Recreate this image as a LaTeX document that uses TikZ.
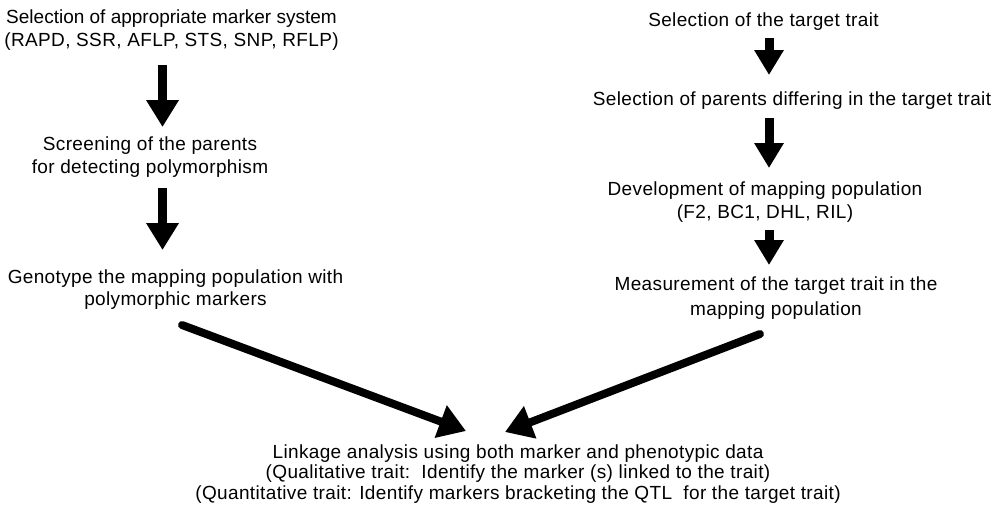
\documentclass[tikz,border=0pt]{standalone}
\usepackage{fontspec}
\setmainfont[LetterSpace=1.9]{Liberation Sans}
\usetikzlibrary{arrows.meta}
\begin{document}
\begin{tikzpicture}[x=1pt,y=-1pt,
  txt/.style={inner sep=0pt,align=center,font=\fontsize{19}{#1}\selectfont},
  txt/.default=24,
  blockarrow/.style={line width=9pt,-{Triangle[width=#1]}},
  diagarrow/.style={line width=8pt,line cap=round,-{Triangle[width=33pt,length=27pt]}}]
\useasboundingbox (0,0) rectangle (1001,517);

% left branch: marker side
\node[txt=23.5] (marker) at (171.5,30.5) {{\addfontfeatures{LetterSpace=0}Selection of appropriate marker system\strut}\\(RAPD, SSR, AFLP, STS, SNP, RFLP)\strut};
\node[txt=23] (screen) at (150,157) {Screening of the parents\strut\\for detecting polymorphism\strut};
\node[txt=22] (geno) at (175.5,289.6) {Genotype the mapping population with\strut\\polymorphic markers\strut};

% right branch: trait side
\node[txt] (trait) at (763.5,21.9) {Selection of the target trait\strut};
\node[txt] (parents) at (792,100.2) {Selection of parents differing in the target trait\strut};
\node[txt=23] (devel) at (765,201.9) {Development of mapping population\strut\\(F2, BC1, DHL, RIL)\strut};
\node[txt=25] (measure) at (776,297.5) {Measurement of the target trait in the\strut\\mapping population\strut};

% joint step
\node[txt=18.5] (linkage) at (518,474.8) {Linkage analysis using both marker and phenotypic data\strut\\(Qualitative trait:\ \ Identify the marker (s) linked to the trait)\strut\\(Quantitative trait: Identify markers bracketing the QTL\ \ for the target trait)\strut};

% arrow end points
\coordinate (m1) at (162.5,65);  \coordinate (s1) at (162.5,127);
\coordinate (m2) at (162.5,188); \coordinate (s2) at (162.5,250);
\coordinate (t1) at (769,38);    \coordinate (p1) at (769,75);
\coordinate (t2) at (769,118);   \coordinate (p2) at (769,168);
\coordinate (t3) at (769,230);   \coordinate (p3) at (769,265);
\coordinate (g0) at (182,325);   \coordinate (l1) at (466,431);
\coordinate (r0) at (760,334);   \coordinate (l2) at (505,432);

\draw[blockarrow={31pt,length=27pt}] (m1) -- (s1);
\draw[blockarrow={31pt,length=27pt}] (m2) -- (s2);
\draw[blockarrow={28pt,length=25pt}] (t1) -- (p1);
\draw[blockarrow={28pt,length=25pt}] (t2) -- (p2);
\draw[blockarrow={28pt,length=25pt}] (t3) -- (p3);
\draw[diagarrow] (g0) -- (l1);
\draw[diagarrow] (r0) -- (l2);
\end{tikzpicture}
\end{document}
